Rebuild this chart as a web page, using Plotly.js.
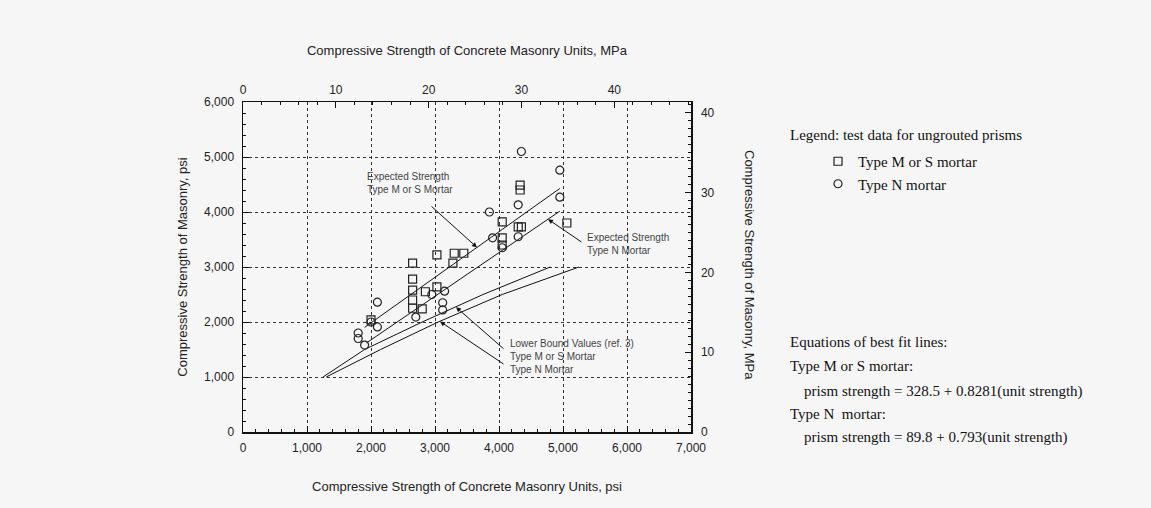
<!DOCTYPE html>
<html><head><meta charset="utf-8">
<script src="https://cdn.plot.ly/plotly-3.0.1.min.js"></script>
<style>html,body{margin:0;padding:0;background:#f6f6f6;}#chart{width:1151px;height:508px;}</style>
</head><body><div id="chart"></div>
<script>
// Test data: unit strength (psi) vs prism strength (psi)
const msUnit  = [2650,2650,2650,2650,2650,2800,2850,3030,3030,3300,3450,3280,4050,4300,4350,4050,4050,4330,4330,5060,2000];
const msPrism = [3070,2780,2580,2400,2250,2240,2550,2640,3220,3250,3250,3070,3820,3730,3730,3530,3400,4490,4400,3800,2040];
const nUnit   = [2100,2100,1800,1800,1900,2000,3150,3120,3120,2700,4350,4950,4300,4950,3850,3900,4300,4050,2950];
const nPrism  = [2360,1910,1700,1800,1580,2000,2560,2350,2220,2090,5100,4760,4130,4270,4000,3530,3550,3350,2500];
// Best fit lines (read endpoints)
const expMsX = [1900,4950], expMsY = [1902,4428];
const expNX  = [1930,4950], expNY  = [1620,4015];
// Lower bound values (ref. 3)
const lbMsX = [1250,1900,2800,3750,4800], lbMsY = [1000,1500,2000,2500,3000];
const lbNX  = [1300,2150,3050,4050,5250], lbNY  = [1000,1500,2000,2500,3000];
// Tick labels
const psiTicksX = [0,1000,2000,3000,4000,5000,6000,7000];
const psiTicksY = [0,1000,2000,3000,4000,5000,6000];
const mpaTicksX = [0,10,20,30,40];
const mpaTicksY = [0,10,20,30,40];
const PSI_PER_MPA = 145.038;

const sans = 'Liberation Sans, Arial, sans-serif';
const serif = 'Liberation Serif, Times New Roman, serif';
const ink = '#222';
const lineStyle = {color:'#111', width:1};

const traces = [
  {x:expMsX, y:expMsY, mode:'lines', line:lineStyle, showlegend:false, hoverinfo:'skip'},
  {x:expNX, y:expNY, mode:'lines', line:lineStyle, showlegend:false, hoverinfo:'skip'},
  {x:lbMsX, y:lbMsY, mode:'lines', line:lineStyle, showlegend:false, hoverinfo:'skip'},
  {x:lbNX, y:lbNY, mode:'lines', line:lineStyle, showlegend:false, hoverinfo:'skip'},
  {x:msUnit, y:msPrism, mode:'markers', name:'Type M or S mortar',
   marker:{symbol:'square-open', size:8, color:'#222', line:{width:1.2}}},
  {x:nUnit, y:nPrism, mode:'markers', name:'Type N mortar',
   marker:{symbol:'circle-open', size:8, color:'#222', line:{width:1.2}}},
  // invisible traces to activate secondary axes
  {x:[0], y:[0], xaxis:'x2', yaxis:'y', mode:'markers', marker:{opacity:0}, showlegend:false, hoverinfo:'skip'},
  {x:[0], y:[0], xaxis:'x', yaxis:'y2', mode:'markers', marker:{opacity:0}, showlegend:false, hoverinfo:'skip'}
];

const gridStyle = {showgrid:true, gridcolor:'#333', griddash:'dot', gridwidth:1};
const tickFont = {family:sans, size:12, color:ink};
const titleFont = {family:sans, size:13, color:ink};

function ann(x,y,text,opts){ return Object.assign({x:x,y:y,text:text,showarrow:false,xref:'x',yref:'y',
  font:{family:sans,size:10,color:'#444'},align:'left',xanchor:'left',yanchor:'middle'},opts||{}); }
function arrow(x,y,ax,ay){ return {x:x,y:y,ax:ax,ay:ay,xref:'x',yref:'y',axref:'x',ayref:'y',text:'',
  showarrow:true,arrowhead:2,arrowsize:1,arrowwidth:1,arrowcolor:'#111'}; }
function ptext(px,py,text,size){ return {xref:'paper',yref:'paper',x:(px-243)/448,y:(432-py)/330,text:text,
  showarrow:false,xanchor:'left',yanchor:'middle',align:'left',font:{family:serif,size:size||15,color:'#111'}}; }

const layout = {
  width:1151, height:508,
  margin:{l:243, r:460, t:102, b:76},
  paper_bgcolor:'#f6f6f6', plot_bgcolor:'#f6f6f6',
  xaxis:Object.assign({range:[0,7000], tickvals:psiTicksX, tickformat:',d', ticks:'inside', ticklen:6,
    tickcolor:'#111', showline:true, linecolor:'#111', linewidth:1.5, zeroline:false, mirror:false,
    ticklabelstandoff:4,
    minor:{dtick:200, ticks:'inside', ticklen:3, tickcolor:'#111', showgrid:false},
    tickfont:tickFont, title:{text:'Compressive Strength of Concrete Masonry Units, psi', font:titleFont, standoff:28}}, gridStyle),
  yaxis:Object.assign({range:[0,6000], tickvals:psiTicksY, tickformat:',d', ticks:'inside', ticklen:6,
    tickcolor:'#111', showline:true, linecolor:'#111', linewidth:1.5, zeroline:false,
    ticklabelstandoff:5,
    minor:{dtick:200, ticks:'inside', ticklen:3, tickcolor:'#111', showgrid:false},
    tickfont:tickFont, title:{text:'Compressive Strength of Masonry, psi', font:titleFont, standoff:13}}, gridStyle),
  xaxis2:{overlaying:'x', side:'top', range:[0,7000/PSI_PER_MPA], tickvals:mpaTicksX, ticks:'inside', ticklen:6,
    tickcolor:'#111', showline:true, linecolor:'#111', linewidth:1.5, showgrid:false, zeroline:false,
    ticklabelstandoff:2,
    minor:{dtick:2, ticks:'inside', ticklen:3, tickcolor:'#111'},
    tickfont:tickFont, title:{text:'Compressive Strength of Concrete Masonry Units, MPa', font:titleFont, standoff:24}},
  yaxis2:{overlaying:'y', side:'right', range:[0,6000/PSI_PER_MPA], tickvals:mpaTicksY, ticks:'inside', ticklen:6,
    tickcolor:'#111', showline:true, linecolor:'#111', linewidth:1.5, showgrid:false, zeroline:false,
    ticklabelstandoff:6,
    minor:{dtick:1, ticks:'inside', ticklen:3, tickcolor:'#111'},
    tickfont:tickFont},
  showlegend:true,
  legend:{x:(818-243)/448, y:(432-145)/330, xanchor:'left', yanchor:'top', bgcolor:'rgba(0,0,0,0)',
    font:{family:serif, size:15, color:'#111'}, itemwidth:30, tracegroupgap:0},
  annotations:[
    {xref:'paper', yref:'paper', x:(750-243)/448, y:(432-265)/330, text:'Compressive Strength of Masonry, MPa',
     textangle:90, showarrow:false, xanchor:'center', yanchor:'middle', font:titleFont},
    ann(1906,4530,'Expected Strength<br>Type M or S Mortar'),
    ann(5344,3420,'Expected Strength<br>Type N Mortar'),
    ann(4141,1370,'Lower Bound Values (ref. 3)<br>Type M or S Mortar<br>Type N Mortar'),
    arrow(3656,3356,2922,4127),
    arrow(4766,3869,5312,3436),
    arrow(3328,2270,4094,1491),
    arrow(3078,2010,4094,1218),
    ptext(788,135,'Legend: test data for ungrouted prisms'),
    ptext(788,342,'Equations of best fit lines:'),
    ptext(788,366,'Type M or S mortar:'),
    ptext(802,391,'prism strength = 328.5 + 0.8281(unit strength)'),
    ptext(788,414,'Type N&nbsp; mortar:'),
    ptext(802,437,'prism strength = 89.8 + 0.793(unit strength)')
  ]
};
Plotly.newPlot('chart', traces, layout, {staticPlot:true, displayModeBar:false});
</script></body></html>
